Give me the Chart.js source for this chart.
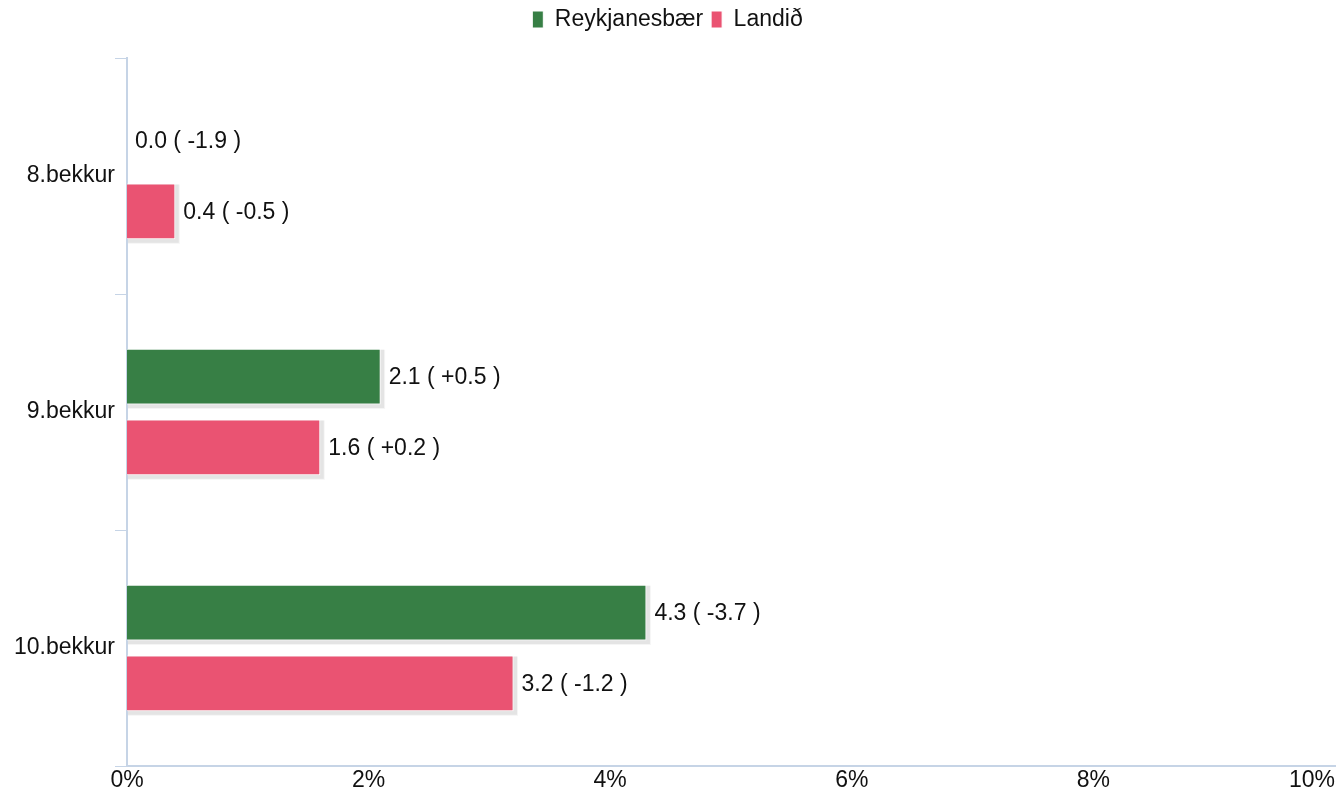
<!DOCTYPE html>
<html>
<head>
<meta charset="utf-8">
<script src="https://cdn.jsdelivr.net/npm/chart.js@4/dist/chart.umd.min.js"></script>
<style>
  html, body { margin: 0; padding: 0; background: #ffffff; }
  #wrap { width: 1340px; height: 790px; position: relative; }
</style>
</head>
<body>
<div id="wrap"><canvas id="c"></canvas></div>
<script>
const categories = ['8.bekkur', '9.bekkur', '10.bekkur'];
const seriesNames = ['Reykjanesbær', 'Landið'];
const reykjanesbaer = [0.0, 2.1, 4.3];
const reykjanesbaerChange = ['-1.9', '+0.5', '-3.7'];
const landid = [0.4, 1.6, 3.2];
const landidChange = ['-0.5', '+0.2', '-1.2'];
const xTickValues = [0, 2, 4, 6, 8, 10];
const xTickLabels = ['0%', '2%', '4%', '6%', '8%', '10%'];

const FONT = "'Liberation Sans', Arial, sans-serif";
const FS = 23;
const AXIS_COLOR = '#c6d4e6';

const shadowPlugin = {
  id: 'barShadow',
  beforeDatasetsDraw(chart) {
    const ctx = chart.ctx;
    ctx.save();
    chart.data.datasets.forEach((ds, di) => {
      const meta = chart.getDatasetMeta(di);
      meta.data.forEach((bar) => {
        const left = Math.min(bar.base, bar.x);
        const right = Math.max(bar.base, bar.x);
        if (right - left < 1) return;
        const top = bar.y - bar.height / 2;
        const h = bar.height;
        ctx.fillStyle = 'rgba(0,0,0,0.04)';
        ctx.fillRect(left + 1, top + 1, right - left + 3.5, h + 3.5);
        ctx.fillStyle = 'rgba(0,0,0,0.07)';
        ctx.fillRect(left + 1, top + 1, right - left + 2.5, h + 2.5);
      });
    });
    ctx.restore();
  }
};

const labelPlugin = {
  id: 'valueLabels',
  afterDatasetsDraw(chart) {
    const ctx = chart.ctx;
    const changes = [reykjanesbaerChange, landidChange];
    ctx.save();
    ctx.font = FS + 'px ' + FONT;
    ctx.fillStyle = '#111111';
    ctx.textAlign = 'left';
    ctx.textBaseline = 'middle';
    chart.data.datasets.forEach((ds, di) => {
      const meta = chart.getDatasetMeta(di);
      meta.data.forEach((bar, i) => {
        const txt = ds.data[i].toFixed(1) + ' ( ' + changes[di][i] + ' )';
        ctx.fillText(txt, bar.x + 8, bar.y + 1);
      });
    });
    ctx.restore();
  }
};

const tickAlignPlugin = {
  id: 'tickAlign',
  beforeDraw(chart) {
    const items = chart.scales.x.getLabelItems();
    if (items.length) items[0].options.textAlign = 'center';
  }
};

const legendFitPlugin = {
  id: 'legendFit',
  beforeInit(chart) {
    const origFit = chart.legend.fit;
    chart.legend.fit = function () {
      origFit.bind(chart.legend)();
      this.height = 58;
    };
  }
};

new Chart(document.getElementById('c'), {
  type: 'bar',
  data: {
    labels: categories,
    datasets: [
      {
        label: seriesNames[0],
        data: reykjanesbaer,
        backgroundColor: '#377f45',
        borderColor: '#ffffff',
        borderWidth: 1,
        categoryPercentage: 0.6,
        barPercentage: 0.79
      },
      {
        label: seriesNames[1],
        data: landid,
        backgroundColor: '#ea5372',
        borderColor: '#ffffff',
        borderWidth: 1,
        categoryPercentage: 0.6,
        barPercentage: 0.79
      }
    ]
  },
  options: {
    indexAxis: 'y',
    responsive: true,
    maintainAspectRatio: false,
    animation: false,
    layout: { padding: { left: 0, right: 5, top: 0, bottom: 0 } },
    plugins: {
      legend: {
        position: 'top',
        labels: {
          boxWidth: 11,
          boxHeight: 17,
          padding: 8,
          color: '#111111',
          font: { family: FONT, size: FS }
        }
      },
      tooltip: { enabled: false }
    },
    scales: {
      x: {
        type: 'linear',
        min: 0,
        max: 10,
        afterBuildTicks(scale) {
          scale.ticks = xTickValues.map(v => ({ value: v }));
        },
        afterFit(scale) { scale.height = 24; },
        grid: { display: false, drawTicks: false },
        border: { display: true, color: AXIS_COLOR, width: 2 },
        ticks: {
          align: 'inner',
          padding: 1,
          maxRotation: 0,
          color: '#111111',
          font: { family: FONT, size: FS },
          callback: (v) => xTickLabels[xTickValues.indexOf(v)]
        }
      },
      y: {
        afterFit(scale) { scale.width = 127; },
        grid: {
          display: true,
          offset: true,
          drawOnChartArea: false,
          drawTicks: true,
          tickLength: 12,
          color: AXIS_COLOR,
          lineWidth: 1
        },
        border: { display: true, color: AXIS_COLOR, width: 2 },
        ticks: {
          padding: 0,
          color: '#111111',
          font: { family: FONT, size: FS }
        }
      }
    }
  },
  plugins: [legendFitPlugin, shadowPlugin, labelPlugin, tickAlignPlugin]
});
</script>
</body>
</html>
